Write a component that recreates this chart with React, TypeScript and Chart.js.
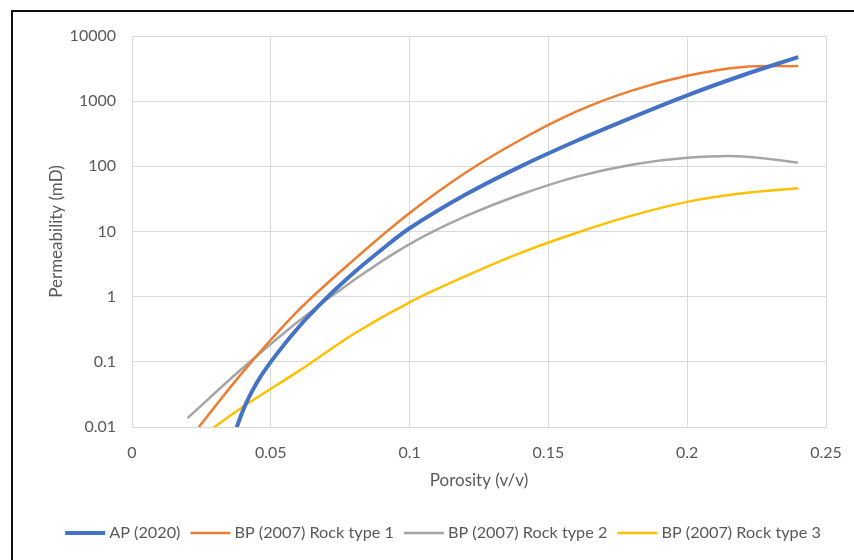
import React, { useEffect, useRef } from 'react';
import { Chart, registerables } from 'chart.js';

Chart.register(...registerables);

// ---- data ----
const porosity = [0.02, 0.04, 0.06, 0.08, 0.1, 0.12, 0.14, 0.16, 0.18, 0.2, 0.22, 0.24];
const apPorosity = [0.035, 0.04, 0.045, 0.05, 0.06, 0.07, 0.08, 0.09, 0.1, 0.12, 0.14, 0.16, 0.18, 0.2, 0.22, 0.24];
const apPermeability = [0.0045, 0.018, 0.048, 0.1, 0.34, 0.95, 2.35, 5.3, 11.2, 36.5, 100, 245, 560, 1230, 2500, 4750];
const rockType1 = [0.006, 0.07, 0.62, 3.7, 19.2, 79, 256, 690, 1450, 2450, 3350, 3450];
const rockType2 = [0.0137, 0.081, 0.42, 1.8, 6.4, 17, 37, 69, 106, 135, 142, 114];
const rockType3 = [0.005, 0.0205, 0.072, 0.27, 0.82, 2.05, 4.7, 9.5, 17.5, 28.5, 38.5, 46];

const seriesNames = ['AP (2020)', 'BP (2007) Rock type 1', 'BP (2007) Rock type 2', 'BP (2007) Rock type 3'];
const xTicks = [0, 0.05, 0.1, 0.15, 0.2, 0.25];
const xTickLabels = ['0', '0.05', '0.1', '0.15', '0.2', '0.25'];
const yTicks = [0.01, 0.1, 1, 10, 100, 1000, 10000];
const yTickLabels = ['0.01', '0.1', '1', '10', '100', '1000', '10000'];
const xTitle = 'Porosity (v/v)';
const yTitle = 'Permeability (mD)';

const toPoints = (xs: number[], ys: number[]) => xs.map((x, i) => ({ x, y: ys[i] }));

const TEXT = '#595959';
const GRID = '#d9d9d9';
const FONT = 'Lato';
const PAD_LEFT = 14;

// Excel-like legend: line sample, small gap, label; row centred under the chart
const bottomLegend = {
  id: 'bottomLegend',
  afterDraw(chart: any) {
    const ctx = chart.ctx;
    const sample = 40;
    const gap = 4;
    const itemGap = 10;
    const fontSize = 16.25;
    ctx.save();
    ctx.font = `${fontSize}px ${FONT}`;
    const items = chart.data.datasets.map((ds: any) => ({
      ds,
      w: ctx.measureText(ds.label).width,
    }));
    const total = items.reduce((a: number, it: any) => a + sample + gap + it.w, 0) + itemGap * (items.length - 1);
    const centreX = (64 + 822) / 2;
    const y = 533;
    let x = centreX - total / 2;
    items.forEach((it: any) => {
      ctx.beginPath();
      ctx.strokeStyle = it.ds.borderColor;
      ctx.lineWidth = it.ds.borderWidth;
      ctx.lineCap = 'butt';
      ctx.moveTo(x, y);
      ctx.lineTo(x + sample, y);
      ctx.stroke();
      ctx.fillStyle = TEXT;
      ctx.textBaseline = 'middle';
      ctx.textAlign = 'left';
      ctx.fillText(it.ds.label, x + sample + gap, y);
      x += sample + gap + it.w + itemGap;
    });
    ctx.restore();
  },
};

export default function App() {
  const ref = useRef<HTMLCanvasElement | null>(null);

  useEffect(() => {
    if (!ref.current) return;
    const common = { pointRadius: 0, pointHoverRadius: 0, fill: false, tension: 0.33, clip: 0 };
    const chart = new Chart(ref.current, {
      type: 'line',
      data: {
        datasets: [
          { label: seriesNames[0], data: toPoints(apPorosity, apPermeability), borderColor: '#4472C4', backgroundColor: '#4472C4', borderWidth: 4, ...common },
          { label: seriesNames[1], data: toPoints(porosity, rockType1), borderColor: '#ED7D31', backgroundColor: '#ED7D31', borderWidth: 2.5, ...common },
          { label: seriesNames[2], data: toPoints(porosity, rockType2), borderColor: '#A5A5A5', backgroundColor: '#A5A5A5', borderWidth: 2.5, ...common },
          { label: seriesNames[3], data: toPoints(porosity, rockType3), borderColor: '#FFC000', backgroundColor: '#FFC000', borderWidth: 2.5, ...common },
        ] as any,
      },
      plugins: [bottomLegend],
      options: {
        animation: false,
        responsive: false,
        events: [],
        layout: { padding: { left: PAD_LEFT, top: 36, right: 28, bottom: 45 } },
        plugins: {
          tooltip: { enabled: false },
          legend: { display: false },
        },
        scales: {
          x: {
            type: 'linear',
            min: 0,
            max: 0.25,
            afterFit: (s: any) => { s.height = 88; s.paddingLeft = 0; s.paddingRight = 0; },
            afterBuildTicks: (s: any) => { s.ticks = xTicks.map((v) => ({ value: v })); },
            grid: { color: GRID, lineWidth: 1, drawTicks: false },
            border: { color: GRID, width: 1 },
            ticks: {
              padding: 16,
              color: TEXT,
              font: { family: FONT, size: 16 },
              callback: (_v: any, i: number) => xTickLabels[i],
              maxRotation: 0,
            },
            title: {
              display: true,
              text: xTitle,
              color: TEXT,
              font: { family: FONT, size: 17 },
              padding: { top: 4, bottom: 24 },
            },
          },
          y: {
            type: 'logarithmic',
            min: 0.01,
            max: 10000,
            afterFit: (s: any) => { s.width = 132 - PAD_LEFT; },
            afterBuildTicks: (s: any) => { s.ticks = yTicks.map((v) => ({ value: v })); },
            grid: { color: GRID, lineWidth: 1, drawTicks: false },
            border: { color: GRID, width: 1 },
            ticks: {
              padding: 16,
              color: TEXT,
              font: { family: FONT, size: 16 },
              callback: (_v: any, i: number) => yTickLabels[i],
            },
            title: {
              display: true,
              text: yTitle,
              color: TEXT,
              font: { family: FONT, size: 17 },
              padding: { top: 57 - PAD_LEFT - 10.2, bottom: 0 },
            },
          },
        },
      } as any,
    });
    return () => chart.destroy();
  }, []);

  return (
    <div style={{ position: 'absolute', left: 0, top: 0, width: 854, height: 560, background: '#fff', overflow: 'hidden' }}>
      <canvas ref={ref} width={854} height={560} style={{ display: 'block', width: 854, height: 560 }} />
      <div
        style={{
          position: 'absolute',
          left: 11,
          top: 10,
          width: 900,
          height: 600,
          borderLeft: '2px solid #111',
          borderTop: '2px solid #111',
          pointerEvents: 'none',
        }}
      />
    </div>
  );
}
